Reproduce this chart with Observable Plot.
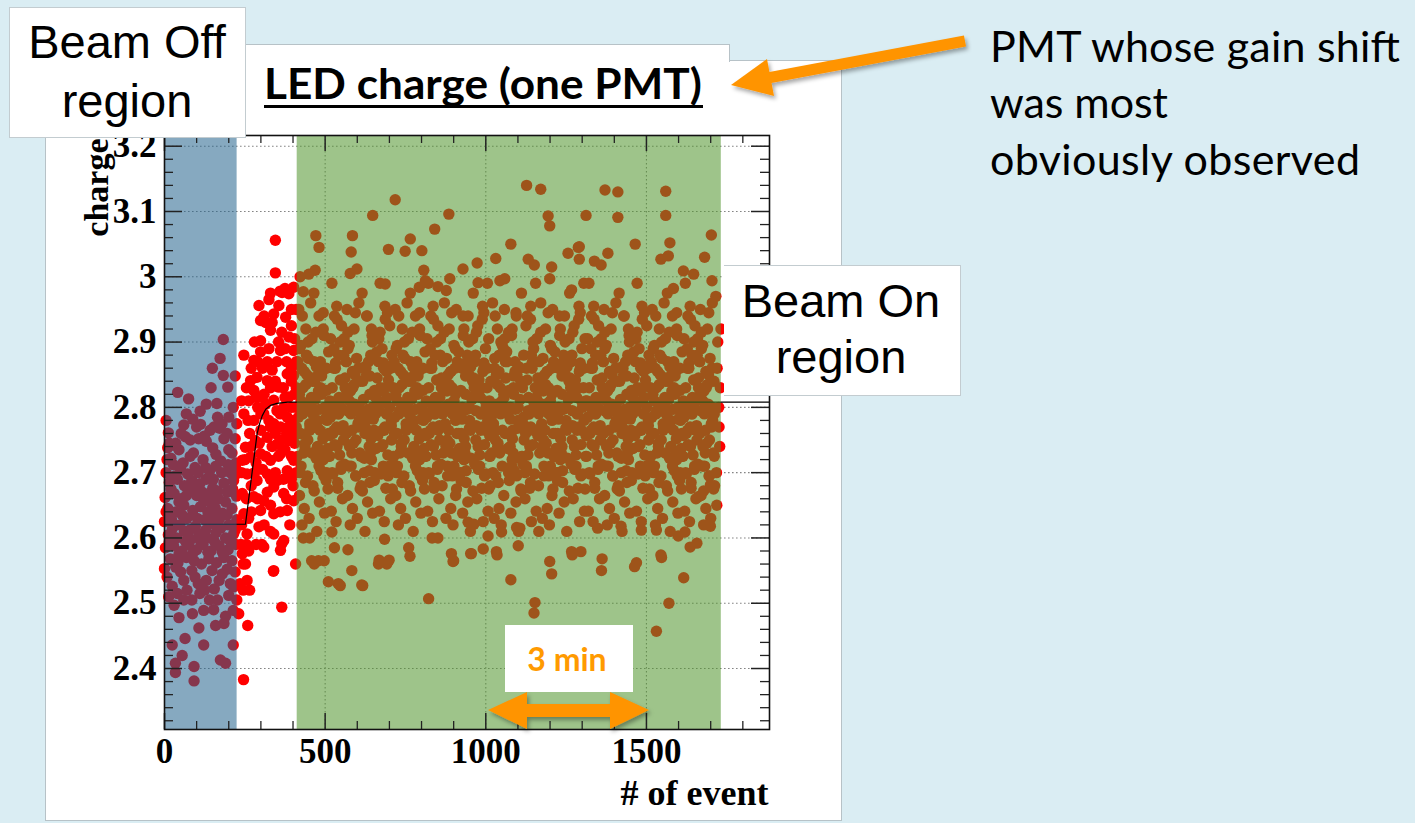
<!DOCTYPE html>
<html><head><meta charset="utf-8">
<script src="https://cdn.jsdelivr.net/npm/d3@7"></script>
<script src="https://cdn.jsdelivr.net/npm/@observablehq/plot@0.6"></script>
<style>
html,body{margin:0;padding:0;background:#daedf3;width:1415px;height:823px;overflow:hidden;}
#stage{position:relative;width:1415px;height:823px;}
.box{position:absolute;background:#fff;box-sizing:border-box;}
#chart{position:absolute;left:0;top:0;}
#anno{position:absolute;left:0;top:0;}
</style></head><body>
<div id="stage">
  <div class="box" style="left:45px;top:60px;width:797px;height:761px;border:1px solid #b7c2c7;"></div>
  <div class="box" style="left:245px;top:44px;width:485px;height:18px;border:1px solid #b7c2c7;border-bottom:none;"></div>
  <div id="chart"></div>
  <div class="box" style="left:9px;top:7px;width:237px;height:131px;border:1px solid #c3ccd0;"></div>
  <div class="box" style="left:724px;top:265px;width:237px;height:131px;border:1px solid #c3ccd0;border-left:none;"></div>
  <svg id="anno" width="1415" height="823">
    <defs>
      <filter id="sh" x="-20%" y="-50%" width="140%" height="200%">
        <feDropShadow dx="2" dy="3" stdDeviation="2.2" flood-color="#000" flood-opacity="0.35"/>
      </filter>
    </defs>
    <g style="font-family:'Liberation Sans',Arial,sans-serif" font-size="47" fill="#000" text-anchor="middle">
      <text x="127" y="58">Beam Off</text>
      <text x="127" y="117">region</text>
      <text x="841" y="317">Beam On</text>
      <text x="841" y="373">region</text>
    </g>
    <text x="264" y="99" font-family="Lato" font-weight="bold" font-size="42" textLength="438" lengthAdjust="spacingAndGlyphs">LED charge (one PMT)</text>
    <rect x="264" y="105" width="439" height="3" fill="#000"></rect>
    <g font-family="Lato" font-size="43" fill="#000">
      <text x="990" y="62" textLength="410" lengthAdjust="spacing">PMT whose gain shift</text>
      <text x="990" y="118" textLength="178" lengthAdjust="spacing">was most</text>
      <text x="990" y="175" textLength="370" lengthAdjust="spacing">obviously observed</text>
    </g>
    <rect x="505" y="625" width="128" height="67" fill="#fff"></rect>
    <text x="567" y="671" text-anchor="middle" font-family="Lato" font-weight="bold" font-size="32" fill="#ff9a00">3 min</text>
    <g fill="#ff9400" filter="url(#sh)">
      <polygon points="488,710 527,692 527,704 610,704 610,692 649,710 610,729 610,717 527,717 527,729"></polygon>
      <polygon points="764,73 964,35.6 966,46.4 766,84"></polygon>
      <polygon points="731,85 767,59 774,96"></polygon>
    </g>
  </svg>
</div>
<script>
// ---- axis ticks ----
const xMajor = [0, 500, 1000, 1500];
const xMinor = [100, 200, 300, 400, 600, 700, 800, 900, 1100, 1200, 1300, 1400, 1600, 1700, 1800];
const yMajor = [2.4, 2.5, 2.6, 2.7, 2.8, 2.9, 3.0, 3.1, 3.2];
const yMinor = [2.32,2.34,2.36,2.38,2.42,2.44,2.46,2.48,2.52,2.54,2.56,2.58,2.62,2.64,2.66,2.68,2.72,2.74,2.76,2.78,2.82,2.84,2.86,2.88,2.92,2.94,2.96,2.98,3.02,3.04,3.06,3.08,3.12,3.14,3.16,3.18];

// ---- highlighted regions (event number) ----
const regionNames = ["off", "on"];
const regionStart = [0, 413];
const regionEnd = [226, 1733];

// ---- fitted step curve ----
const fitEvents = [0, 252, 270, 288, 296, 304, 315, 330, 350, 382, 1883];
const fitCharge = [2.621, 2.621, 2.69, 2.759, 2.775, 2.787, 2.797, 2.803, 2.806, 2.808, 2.808];

// ---- LED charge per event [event, charge] ----
const offRegion = [[183,2.904],[173,2.875],[149,2.860],[183,2.849],[220,2.848],[197,2.831],[145,2.830],[41,2.823],[75,2.813],[163,2.806],[214,2.800],[111,2.794],[68,2.790],[88,2.782],[112,2.774],[200,2.785],[172,2.768],[12,2.761],[106,2.752],[60,2.773],[220,2.752],[35,2.745],[150,2.738],[200,2.735],[90,2.730],[20,2.722],[120,2.720],[175,2.718],[223,2.715],[45,2.735],[65,2.755],[130,2.748],[185,2.752],[10,2.738],[160,2.728],[210,2.730],[124,2.756],[154,2.770],[179,2.775],[30,2.742],
[5,2.700],[28,2.712],[50,2.705],[72,2.698],[95,2.708],[140,2.702],[160,2.710],[205,2.700],[222,2.706],
[15,2.685],[40,2.690],[62,2.680],[85,2.688],[110,2.683],[130,2.690],[150,2.676],[185,2.684],[215,2.688],
[2,2.662],[30,2.668],[52,2.660],[78,2.672],[100,2.665],[122,2.658],[145,2.668],[168,2.660],[195,2.670],[224,2.664],
[10,2.645],[35,2.640],[60,2.650],[88,2.642],[112,2.648],[135,2.640],[158,2.646],[180,2.638],[210,2.645],
[0,2.625],[22,2.628],[48,2.620],[70,2.630],[96,2.618],[125,2.628],[150,2.622],[172,2.630],[200,2.620],[225,2.628],
[12,2.605],[38,2.600],[62,2.610],[82,2.598],[108,2.606],[132,2.600],[160,2.608],[190,2.600],[215,2.606],
[3,2.585],[28,2.588],[55,2.580],[75,2.590],[100,2.582],[120,2.590],[145,2.580],[170,2.588],[198,2.582],[222,2.590],
[18,2.568],[42,2.562],[68,2.570],[92,2.565],[115,2.560],[138,2.568],[162,2.562],[185,2.570],[210,2.565],
[0,2.553],[50,2.548],[24,2.526],[13,2.510],[70,2.520],[95,2.540],[130,2.535],[155,2.522],[180,2.545],[205,2.530],[220,2.548],
[60,2.505],[140,2.505],[200,2.512],[110,2.515],[30,2.497],
[45,2.478],[87,2.484],[122,2.489],[153,2.490],[190,2.480],[214,2.489],[107,2.462],[159,2.466],[185,2.469],[64,2.446],[24,2.436],[122,2.436],[214,2.436],[55,2.420],[34,2.408],[174,2.413],[190,2.408],[92,2.403],[34,2.394],[92,2.381],
[8,2.72],[33,2.695],[58,2.715],[80,2.725],[105,2.700],[128,2.708],[152,2.690],[178,2.700],[198,2.712],[218,2.695],
[20,2.675],[45,2.655],[68,2.665],[92,2.675],[118,2.670],[140,2.655],[165,2.672],[190,2.655],[212,2.675],
[5,2.640],[25,2.615],[55,2.635],[78,2.612],[102,2.630],[128,2.612],[148,2.635],[175,2.615],[195,2.635],[220,2.612],
[15,2.595],[45,2.575],[65,2.595],[90,2.578],[112,2.595],[135,2.578],[155,2.595],[180,2.578],[205,2.595],
[8,2.540],[35,2.555],[60,2.535],[85,2.550],[105,2.530],[148,2.550],[170,2.535],[195,2.552],[215,2.525],
[40,2.515],[85,2.505],[125,2.520],[165,2.505],[225,2.505],
[15,2.745],[52,2.760],[80,2.750],[142,2.765],[165,2.785],[195,2.760],[225,2.775],[100,2.770],[130,2.805],[5,2.78]];

const rampRegion = [[294,2.956],[325,2.965],[366,2.976],[387,2.974],[402,2.984],[356,2.956],[340,2.943],[299,2.933],[377,2.938],[330,2.918],[387,2.908],[299,2.902],[247,2.880],[278,2.872],[299,2.885],[361,2.887],[402,2.887],[335,2.857],[382,2.851],[268,2.841],[288,2.846],[320,2.841],[402,2.849],[356,2.831],[278,2.826],[299,2.816],[340,2.811],[387,2.816],[247,2.790],[278,2.780],[309,2.790],[340,2.775],[382,2.785],[402,2.780],[361,2.770],[392,2.760],[252,2.739],[283,2.749],[320,2.754],[351,2.744],[387,2.749],[242,2.719],[268,2.724],[299,2.729],[330,2.719],[361,2.729],[402,2.719],[257,2.698],[288,2.688],[320,2.698],[351,2.688],[382,2.703],[242,2.668],[278,2.663],[309,2.657],[340,2.678],[371,2.668],[402,2.657],[247,2.637],[299,2.642],[340,2.637],[382,2.642],[257,2.606],[294,2.617],[340,2.606],[371,2.596],[242,2.576],[309,2.586],[361,2.581],[252,2.560],[340,2.550],[408,2.560],
[262,2.810],[290,2.800],[315,2.805],[330,2.770],[350,2.795],[372,2.800],[395,2.800],[410,2.830],[265,2.760],[300,2.765],[345,2.760],[375,2.735],[405,2.745],[285,2.715],[315,2.725],[345,2.700],[395,2.690],[410,2.700],[270,2.680],[330,2.650],[360,2.640],[390,2.620],[270,2.640],[310,2.620],[240,2.700],[255,2.660],[240,2.620],[255,2.590],[320,2.870],[350,2.870],[380,2.870],[410,2.870],[305,2.860],[395,2.925],[410,2.950],[365,2.915],[315,2.930],[270,2.860],[255,2.830],[240,2.810],[410,2.800],[400,2.760],[380,2.760],[290,2.660],[400,2.680],
[339,2.549],[365,2.494],[259,2.466],[246,2.383],[303,2.590],[365,2.591],[231,2.484],[257,2.535],[245,2.520],[265,2.520],[235,2.530],[245,2.560],[238,2.590],[262,2.580],[345,3.056],[345,3.006],[330,2.975],[360,2.978],[375,2.982],
[280,2.900],[310,2.940],[335,2.930],[355,2.900],[375,2.890],[395,2.950],[405,2.905],[325,2.890],[290,2.870],[345,2.840],[370,2.830],[395,2.840],[330,2.830],[300,2.790],[325,2.780],[360,2.790],[385,2.770],[270,2.740],[295,2.745],[335,2.740],[365,2.750],[395,2.725],[410,2.770],[280,2.700],[305,2.705],[330,2.690],[370,2.690],[250,2.720],[260,2.780],[285,2.815],[310,2.820],[375,2.815],[395,2.860],[405,2.820],[355,2.725],[320,2.670],[380,2.660],[262,2.630],[330,2.610],[285,2.590]];

const onOutliers = [[718,3.118],[648,3.094],[471,3.063],[585,3.063],[481,3.045],[581,3.038],[697,3.042],[765,3.058],[749,3.039],[801,3.040],[841,3.073],[469,3.010],[449,3.004],[578,3.005],[599,3.012],[687,2.989],[807,3.010],[812,2.994],[793,2.984],[422,3.000],[432,2.977],[1127,3.140],[1171,3.134],[885,3.096],[1194,3.093],[1199,3.078],[1078,3.050],[1031,3.028],[973,3.021],[1132,3.027],[1151,3.018],[1256,3.036],[1288,3.045],[1205,3.015],[1199,2.997],[1267,2.980],[888,2.997],[929,3.012],[1044,2.994],[1059,2.997],[976,2.991],[851,2.985],[877,2.979],[1371,3.133],[1411,3.130],[1560,3.131],[1312,3.094],[1411,3.091],[1560,3.094],[1702,3.064],[1465,3.050],[1573,3.052],[1291,3.046],[1380,3.036],[1545,3.027],[1568,3.032],[1681,3.030],[1291,3.027],[1338,3.024],[1359,3.018],[1615,3.009],[1647,3.004],[1704,2.994],[1584,2.982],
[822,2.507],[510,2.533],[541,2.530],[614,2.528],[583,2.550],[458,2.565],[479,2.565],[529,2.585],[571,2.582],[666,2.560],[692,2.560],[760,2.585],[764,2.572],[685,2.598],[833,2.600],[432,2.600],[452,2.600],[521,2.609],[466,2.560],[497,2.565],[547,2.527],[617,2.527],[668,2.566],[699,2.566],[1078,2.536],[1153,2.501],[1150,2.485],[1205,2.545],[1199,2.564],[1267,2.579],[898,2.564],[893,2.576],[953,2.576],[992,2.583],[1033,2.579],[1007,2.603],[1049,2.609],[1096,2.616],[1106,2.615],[1165,2.610],[1101,2.588],[851,2.600],[945,2.624],[963,2.621],[900,2.565],[955,2.576],[1035,2.574],[1269,2.574],[1362,2.568],[1360,2.550],[1469,2.562],[1463,2.556],[1547,2.570],[1616,2.539],[1570,2.500],[1531,2.457],[1545,2.574],[1296,2.579],[1636,2.586],[1657,2.592],[1599,2.603],[1620,2.609],[1699,2.618],[1531,2.612],[1484,2.612],[1421,2.618],[1348,2.615],[1662,2.663],[1678,2.672],[1699,2.681],
[1720,2.86],[1725,2.80],[1728,2.74],[1722,2.90],[1718,2.70],[1730,2.83],[1716,2.97],[1726,2.77],[1732,2.92],[1719,2.65]];

// dense core of the beam-on region, read in 50-event slices
const onBinEvents = [
[418,440,455,425,448,435,460,420,442,430,452,416,438,458,425,445,462,420,435,450,428,440,415,455,425,453,443,433,421,461,446,431],
[465,481,496,511,473,489,504,469,484,500,477,493,508,472,487,503,466,482,498,474,491,507,479,494,499,467,510,485,494,476,489,505],
[521,536,551,517,532,547,562,526,541,556,514,530,545,560,524,539,554,519,534,549,528,543,558,537,542,522,557,532,550,515,536,527],
[568,590,605,575,598,585,610,570,592,580,602,566,588,608,575,595,612,570,585,600,578,590,565,605,575,603,593,583,571,611,596,581],
[615,631,646,661,623,639,654,619,634,650,627,643,658,622,637,653,616,632,648,624,641,657,629,644,649,617,660,635,644,626,639,655],
[671,686,701,667,682,697,712,676,691,706,664,680,695,710,674,689,704,669,684,699,678,693,708,687,692,672,707,682,700,665,686,677],
[718,740,755,725,748,735,760,720,742,730,752,716,738,758,725,745,762,720,735,750,728,740,715,755,725,753,743,733,721,761,746,731],
[765,781,796,811,773,789,804,769,784,800,777,793,808,772,787,803,766,782,798,774,791,807,779,794,799,767,810,785,794,776,789,805],
[821,836,851,817,832,847,862,826,841,856,814,830,845,860,824,839,854,819,834,849,828,843,858,837,842,822,857,832,850,815,836,827],
[908,886,871,901,878,891,866,906,884,896,874,910,888,868,901,881,864,906,891,876,898,886,911,871,901,873,883,893,905,865,880,895],
[961,945,930,915,953,937,922,957,942,926,949,933,918,954,939,923,960,944,928,952,935,919,947,932,927,959,916,941,932,950,937,921],
[1005,990,975,1009,994,979,964,1000,985,970,1012,996,981,966,1002,987,972,1007,992,977,998,983,968,989,984,1004,969,994,976,1011,990,999],
[1058,1036,1021,1051,1028,1041,1016,1056,1034,1046,1024,1060,1038,1018,1051,1031,1014,1056,1041,1026,1048,1036,1061,1021,1051,1023,1033,1043,1055,1015,1030,1045],
[1111,1095,1080,1065,1103,1087,1072,1107,1092,1076,1099,1083,1068,1104,1089,1073,1110,1094,1078,1102,1085,1069,1097,1082,1077,1109,1066,1091,1082,1100,1087,1071],
[1155,1140,1125,1159,1144,1129,1114,1150,1135,1120,1162,1146,1131,1116,1152,1137,1122,1157,1142,1127,1148,1133,1118,1139,1134,1154,1119,1144,1126,1161,1140,1149],
[1208,1186,1171,1201,1178,1191,1166,1206,1184,1196,1174,1210,1188,1168,1201,1181,1164,1206,1191,1176,1198,1186,1211,1171,1201,1173,1183,1193,1205,1165,1180,1195],
[1261,1245,1230,1215,1253,1237,1222,1257,1242,1226,1249,1233,1218,1254,1239,1223,1260,1244,1228,1252,1235,1219,1247,1232,1227,1259,1216,1241,1232,1250,1237,1221],
[1305,1290,1275,1309,1294,1279,1264,1300,1285,1270,1312,1296,1281,1266,1302,1287,1272,1307,1292,1277,1298,1283,1268,1289,1284,1304,1269,1294,1276,1311,1290,1299],
[1321,1336,1351,1317,1332,1347,1362,1326,1341,1356,1314,1330,1345,1360,1324,1339,1354,1319,1334,1349,1328,1343,1358,1337,1342,1322,1357,1332,1350,1315,1336,1327],
[1368,1390,1405,1375,1398,1385,1410,1370,1392,1380,1402,1366,1388,1408,1375,1395,1412,1370,1385,1400,1378,1390,1365,1405,1375,1403,1393,1383,1371,1411,1396,1381],
[1415,1431,1446,1461,1423,1439,1454,1419,1434,1450,1427,1443,1458,1422,1437,1453,1416,1432,1448,1424,1441,1457,1429,1444,1449,1417,1460,1435,1444,1426,1439,1455],
[1471,1486,1501,1467,1482,1497,1512,1476,1491,1506,1464,1480,1495,1510,1474,1489,1504,1469,1484,1499,1478,1493,1508,1487,1492,1472,1507,1482,1500,1465,1486,1477],
[1518,1540,1555,1525,1548,1535,1560,1520,1542,1530,1552,1516,1538,1558,1525,1545,1562,1520,1535,1550,1528,1540,1515,1555,1525,1553,1543,1533,1521,1561,1546,1531],
[1565,1581,1596,1611,1573,1589,1604,1569,1584,1600,1577,1593,1608,1572,1587,1603,1566,1582,1598,1574,1591,1607,1579,1594,1599,1567,1610,1585,1594,1576,1589,1605],
[1621,1636,1651,1617,1632,1647,1662,1626,1641,1656,1614,1630,1645,1660,1624,1639,1654,1619,1634,1649,1628,1643,1658,1637,1642,1622,1657,1632,1650,1615,1636,1627],
[1668,1690,1705,1675,1698,1685,1710,1670,1692,1680,1702,1666,1688,1708,1675,1695,1712,1670,1685,1700,1678,1690,1665,1705,1675,1703,1693,1683,1671,1711,1696,1681]];

const onBinCharges = [
[2.95,2.92,2.96,2.895,2.875,2.855,2.84,2.82,2.805,2.79,2.775,2.76,2.745,2.73,2.71,2.695,2.68,2.665,2.645,2.63,2.62,2.835,2.87,2.8,2.81,2.77,2.85,2.73,2.89,2.79,2.75,2.83],
[2.975,2.94,2.91,2.885,2.862,2.848,2.826,2.812,2.797,2.782,2.768,2.752,2.737,2.722,2.703,2.688,2.672,2.655,2.638,2.61,2.73,2.79,2.85,2.92,2.8,2.84,2.76,2.87,2.72,2.78,2.82,2.7],
[2.99,2.955,2.925,2.905,2.868,2.842,2.83,2.808,2.79,2.772,2.757,2.743,2.727,2.713,2.698,2.676,2.66,2.641,2.625,2.705,2.765,2.815,2.88,2.935,2.79,2.83,2.75,2.86,2.71,2.81,2.77,2.89],
[2.95,2.92,2.96,2.895,2.875,2.855,2.84,2.82,2.805,2.79,2.775,2.76,2.745,2.73,2.71,2.695,2.68,2.665,2.645,2.63,2.62,2.835,2.87,2.8,2.81,2.77,2.85,2.73,2.89,2.79,2.75,2.83],
[2.975,2.94,2.91,2.885,2.862,2.848,2.826,2.812,2.797,2.782,2.768,2.752,2.737,2.722,2.703,2.688,2.672,2.655,2.638,2.61,2.73,2.79,2.85,2.92,2.8,2.84,2.76,2.87,2.72,2.78,2.82,2.7],
[2.99,2.955,2.925,2.905,2.868,2.842,2.83,2.808,2.79,2.772,2.757,2.743,2.727,2.713,2.698,2.676,2.66,2.641,2.625,2.705,2.765,2.815,2.88,2.935,2.79,2.83,2.75,2.86,2.71,2.81,2.77,2.89],
[2.95,2.92,2.96,2.895,2.875,2.855,2.84,2.82,2.805,2.79,2.775,2.76,2.745,2.73,2.71,2.695,2.68,2.665,2.645,2.63,2.62,2.835,2.87,2.8,2.81,2.77,2.85,2.73,2.89,2.79,2.75,2.83],
[2.975,2.94,2.91,2.885,2.862,2.848,2.826,2.812,2.797,2.782,2.768,2.752,2.737,2.722,2.703,2.688,2.672,2.655,2.638,2.61,2.73,2.79,2.85,2.92,2.8,2.84,2.76,2.87,2.72,2.78,2.82,2.7],
[2.99,2.955,2.925,2.905,2.868,2.842,2.83,2.808,2.79,2.772,2.757,2.743,2.727,2.713,2.698,2.676,2.66,2.641,2.625,2.705,2.765,2.815,2.88,2.935,2.79,2.83,2.75,2.86,2.71,2.81,2.77,2.89],
[2.95,2.92,2.96,2.895,2.875,2.855,2.84,2.82,2.805,2.79,2.775,2.76,2.745,2.73,2.71,2.695,2.68,2.665,2.645,2.63,2.62,2.835,2.87,2.8,2.81,2.77,2.85,2.73,2.89,2.79,2.75,2.83],
[2.975,2.94,2.91,2.885,2.862,2.848,2.826,2.812,2.797,2.782,2.768,2.752,2.737,2.722,2.703,2.688,2.672,2.655,2.638,2.61,2.73,2.79,2.85,2.92,2.8,2.84,2.76,2.87,2.72,2.78,2.82,2.7],
[2.99,2.955,2.925,2.905,2.868,2.842,2.83,2.808,2.79,2.772,2.757,2.743,2.727,2.713,2.698,2.676,2.66,2.641,2.625,2.705,2.765,2.815,2.88,2.935,2.79,2.83,2.75,2.86,2.71,2.81,2.77,2.89],
[2.95,2.92,2.96,2.895,2.875,2.855,2.84,2.82,2.805,2.79,2.775,2.76,2.745,2.73,2.71,2.695,2.68,2.665,2.645,2.63,2.62,2.835,2.87,2.8,2.81,2.77,2.85,2.73,2.89,2.79,2.75,2.83],
[2.975,2.94,2.91,2.885,2.862,2.848,2.826,2.812,2.797,2.782,2.768,2.752,2.737,2.722,2.703,2.688,2.672,2.655,2.638,2.61,2.73,2.79,2.85,2.92,2.8,2.84,2.76,2.87,2.72,2.78,2.82,2.7],
[2.99,2.955,2.925,2.905,2.868,2.842,2.83,2.808,2.79,2.772,2.757,2.743,2.727,2.713,2.698,2.676,2.66,2.641,2.625,2.705,2.765,2.815,2.88,2.935,2.79,2.83,2.75,2.86,2.71,2.81,2.77,2.89],
[2.95,2.92,2.96,2.895,2.875,2.855,2.84,2.82,2.805,2.79,2.775,2.76,2.745,2.73,2.71,2.695,2.68,2.665,2.645,2.63,2.62,2.835,2.87,2.8,2.81,2.77,2.85,2.73,2.89,2.79,2.75,2.83],
[2.975,2.94,2.91,2.885,2.862,2.848,2.826,2.812,2.797,2.782,2.768,2.752,2.737,2.722,2.703,2.688,2.672,2.655,2.638,2.61,2.73,2.79,2.85,2.92,2.8,2.84,2.76,2.87,2.72,2.78,2.82,2.7],
[2.99,2.955,2.925,2.905,2.868,2.842,2.83,2.808,2.79,2.772,2.757,2.743,2.727,2.713,2.698,2.676,2.66,2.641,2.625,2.705,2.765,2.815,2.88,2.935,2.79,2.83,2.75,2.86,2.71,2.81,2.77,2.89],
[2.99,2.955,2.925,2.905,2.868,2.842,2.83,2.808,2.79,2.772,2.757,2.743,2.727,2.713,2.698,2.676,2.66,2.641,2.625,2.705,2.765,2.815,2.88,2.935,2.79,2.83,2.75,2.86,2.71,2.81,2.77,2.89],
[2.95,2.92,2.96,2.895,2.875,2.855,2.84,2.82,2.805,2.79,2.775,2.76,2.745,2.73,2.71,2.695,2.68,2.665,2.645,2.63,2.62,2.835,2.87,2.8,2.81,2.77,2.85,2.73,2.89,2.79,2.75,2.83],
[2.975,2.94,2.91,2.885,2.862,2.848,2.826,2.812,2.797,2.782,2.768,2.752,2.737,2.722,2.703,2.688,2.672,2.655,2.638,2.61,2.73,2.79,2.85,2.92,2.8,2.84,2.76,2.87,2.72,2.78,2.82,2.7],
[2.99,2.955,2.925,2.905,2.868,2.842,2.83,2.808,2.79,2.772,2.757,2.743,2.727,2.713,2.698,2.676,2.66,2.641,2.625,2.705,2.765,2.815,2.88,2.935,2.79,2.83,2.75,2.86,2.71,2.81,2.77,2.89],
[2.95,2.92,2.96,2.895,2.875,2.855,2.84,2.82,2.805,2.79,2.775,2.76,2.745,2.73,2.71,2.695,2.68,2.665,2.645,2.63,2.62,2.835,2.87,2.8,2.81,2.77,2.85,2.73,2.89,2.79,2.75,2.83],
[2.975,2.94,2.91,2.885,2.862,2.848,2.826,2.812,2.797,2.782,2.768,2.752,2.737,2.722,2.703,2.688,2.672,2.655,2.638,2.61,2.73,2.79,2.85,2.92,2.8,2.84,2.76,2.87,2.72,2.78,2.82,2.7],
[2.99,2.955,2.925,2.905,2.868,2.842,2.83,2.808,2.79,2.772,2.757,2.743,2.727,2.713,2.698,2.676,2.66,2.641,2.625,2.705,2.765,2.815,2.88,2.935,2.79,2.83,2.75,2.86,2.71,2.81,2.77,2.89],
[2.95,2.92,2.96,2.895,2.875,2.855,2.84,2.82,2.805,2.79,2.775,2.76,2.745,2.73,2.71,2.695,2.68,2.665,2.645,2.63,2.62,2.835,2.87,2.8,2.81,2.77,2.85,2.73,2.89,2.79,2.75,2.83]];

// second pass over the dense core (2.67 - 2.95), same slices
const coreBinEvents = [
[417,427,437,447,457,422,432,442,452,462,414,429,439,449,459,424],
[466,476,486,496,506,471,481,491,501,511,469,484,494,504,509,479],
[517,527,537,547,557,522,532,542,552,562,514,529,539,549,559,524],
[566,576,586,596,606,571,581,591,601,611,569,584,594,604,609,579],
[617,627,637,647,657,622,632,642,652,662,614,629,639,649,659,624],
[666,676,686,696,706,671,681,691,701,711,669,684,694,704,709,679],
[717,727,737,747,757,722,732,742,752,762,714,729,739,749,759,724],
[766,776,786,796,806,771,781,791,801,811,769,784,794,804,809,779],
[817,827,837,847,857,822,832,842,852,862,814,829,839,849,859,824],
[866,876,886,896,906,871,881,891,901,911,869,884,894,904,909,879],
[917,927,937,947,957,922,932,942,952,962,914,929,939,949,959,924],
[966,976,986,996,1006,971,981,991,1001,1011,969,984,994,1004,1009,979],
[1017,1027,1037,1047,1057,1022,1032,1042,1052,1062,1014,1029,1039,1049,1059,1024],
[1066,1076,1086,1096,1106,1071,1081,1091,1101,1111,1069,1084,1094,1104,1109,1079],
[1117,1127,1137,1147,1157,1122,1132,1142,1152,1162,1114,1129,1139,1149,1159,1124],
[1166,1176,1186,1196,1206,1171,1181,1191,1201,1211,1169,1184,1194,1204,1209,1179],
[1217,1227,1237,1247,1257,1222,1232,1242,1252,1262,1214,1229,1239,1249,1259,1224],
[1266,1276,1286,1296,1306,1271,1281,1291,1301,1311,1269,1284,1294,1304,1309,1279],
[1317,1327,1337,1347,1357,1322,1332,1342,1352,1362,1314,1329,1339,1349,1359,1324],
[1366,1376,1386,1396,1406,1371,1381,1391,1401,1411,1369,1384,1394,1404,1409,1379],
[1417,1427,1437,1447,1457,1422,1432,1442,1452,1462,1414,1429,1439,1449,1459,1424],
[1466,1476,1486,1496,1506,1471,1481,1491,1501,1511,1469,1484,1494,1504,1509,1479],
[1517,1527,1537,1547,1557,1522,1532,1542,1552,1562,1514,1529,1539,1549,1559,1524],
[1566,1576,1586,1596,1606,1571,1581,1591,1601,1611,1569,1584,1594,1604,1609,1579],
[1617,1627,1637,1647,1657,1622,1632,1642,1652,1662,1614,1629,1639,1649,1659,1624],
[1666,1676,1686,1696,1706,1671,1681,1691,1701,1711,1669,1684,1694,1704,1709,1679]];

const coreBinCharges = [
[2.785,2.86,2.74,2.90,2.815,2.70,2.795,2.88,2.765,2.845,2.725,2.94,2.685,2.80,2.905,2.76],
[2.87,2.74,2.83,2.695,2.78,2.915,2.71,2.855,2.80,2.725,2.795,2.765,2.945,2.86,2.675,2.825],
[2.785,2.86,2.74,2.90,2.815,2.70,2.795,2.88,2.765,2.845,2.725,2.94,2.685,2.80,2.905,2.76],
[2.87,2.74,2.83,2.695,2.78,2.915,2.71,2.855,2.80,2.725,2.795,2.765,2.945,2.86,2.675,2.825],
[2.785,2.86,2.74,2.90,2.815,2.70,2.795,2.88,2.765,2.845,2.725,2.94,2.685,2.80,2.905,2.76],
[2.87,2.74,2.83,2.695,2.78,2.915,2.71,2.855,2.80,2.725,2.795,2.765,2.945,2.86,2.675,2.825],
[2.785,2.86,2.74,2.90,2.815,2.70,2.795,2.88,2.765,2.845,2.725,2.94,2.685,2.80,2.905,2.76],
[2.87,2.74,2.83,2.695,2.78,2.915,2.71,2.855,2.80,2.725,2.795,2.765,2.945,2.86,2.675,2.825],
[2.785,2.86,2.74,2.90,2.815,2.70,2.795,2.88,2.765,2.845,2.725,2.94,2.685,2.80,2.905,2.76],
[2.87,2.74,2.83,2.695,2.78,2.915,2.71,2.855,2.80,2.725,2.795,2.765,2.945,2.86,2.675,2.825],
[2.785,2.86,2.74,2.90,2.815,2.70,2.795,2.88,2.765,2.845,2.725,2.94,2.685,2.80,2.905,2.76],
[2.87,2.74,2.83,2.695,2.78,2.915,2.71,2.855,2.80,2.725,2.795,2.765,2.945,2.86,2.675,2.825],
[2.785,2.86,2.74,2.90,2.815,2.70,2.795,2.88,2.765,2.845,2.725,2.94,2.685,2.80,2.905,2.76],
[2.87,2.74,2.83,2.695,2.78,2.915,2.71,2.855,2.80,2.725,2.795,2.765,2.945,2.86,2.675,2.825],
[2.785,2.86,2.74,2.90,2.815,2.70,2.795,2.88,2.765,2.845,2.725,2.94,2.685,2.80,2.905,2.76],
[2.87,2.74,2.83,2.695,2.78,2.915,2.71,2.855,2.80,2.725,2.795,2.765,2.945,2.86,2.675,2.825],
[2.785,2.86,2.74,2.90,2.815,2.70,2.795,2.88,2.765,2.845,2.725,2.94,2.685,2.80,2.905,2.76],
[2.87,2.74,2.83,2.695,2.78,2.915,2.71,2.855,2.80,2.725,2.795,2.765,2.945,2.86,2.675,2.825],
[2.785,2.86,2.74,2.90,2.815,2.70,2.795,2.88,2.765,2.845,2.725,2.94,2.685,2.80,2.905,2.76],
[2.87,2.74,2.83,2.695,2.78,2.915,2.71,2.855,2.80,2.725,2.795,2.765,2.945,2.86,2.675,2.825],
[2.785,2.86,2.74,2.90,2.815,2.70,2.795,2.88,2.765,2.845,2.725,2.94,2.685,2.80,2.905,2.76],
[2.87,2.74,2.83,2.695,2.78,2.915,2.71,2.855,2.80,2.725,2.795,2.765,2.945,2.86,2.675,2.825],
[2.785,2.86,2.74,2.90,2.815,2.70,2.795,2.88,2.765,2.845,2.725,2.94,2.685,2.80,2.905,2.76],
[2.87,2.74,2.83,2.695,2.78,2.915,2.71,2.855,2.80,2.725,2.795,2.765,2.945,2.86,2.675,2.825],
[2.785,2.86,2.74,2.90,2.815,2.70,2.795,2.88,2.765,2.845,2.725,2.94,2.685,2.80,2.905,2.76],
[2.87,2.74,2.83,2.695,2.78,2.915,2.71,2.855,2.80,2.725,2.795,2.765,2.945,2.86,2.675,2.825]];

// ---- build tables ----
const zipBins = (evs, chs) => evs.flatMap((xs, i) => xs.map((x, j) => [x, chs[i][j]]));
const points = [...offRegion, ...rampRegion, ...onOutliers,
  ...zipBins(onBinEvents, onBinCharges), ...zipBins(coreBinEvents, coreBinCharges)]
  .map(([event, charge]) => ({event, charge}));
const fit = fitEvents.map((e, i) => ({event: e, charge: fitCharge[i]}));
const regions = regionNames.map((name, i) => ({name, start: regionStart[i], end: regionEnd[i]}));

const W = 1415, H = 823;
const mL = 164, mR = W - 769, mT = 135, mB = H - 729;
const frameW = W - mL - mR, frameH = H - mT - mB;
const serif = "Liberation Serif, Times New Roman, serif";
const gridStyle = {stroke: "#858585", strokeOpacity: 1, strokeWidth: 1.1, strokeDasharray: "1.6,2.4"};

const chart = Plot.plot({
  width: W, height: H,
  marginLeft: mL, marginRight: mR, marginTop: mT, marginBottom: mB,
  x: {domain: [0, 1883], axis: null},
  y: {domain: [2.3066, 3.2164], axis: null},
  style: {background: "transparent", overflow: "visible"},
  marks: [
    Plot.gridY(yMajor, gridStyle),
    Plot.gridX(xMajor.filter(d => d > 0), gridStyle),
    Plot.dot(points, {x: "event", y: "charge", r: 5.7, fill: "#ff0000", stroke: "none"}),
    Plot.line(fit, {x: "event", y: "charge", stroke: "#000", strokeWidth: 1.2}),
    Plot.rect(regions.filter(d => d.name === "off"), {x1: "start", x2: "end", fill: "#23628c", fillOpacity: 0.55}),
    Plot.rect(regions.filter(d => d.name === "on"), {x1: "start", x2: "end", fill: "#52962e", fillOpacity: 0.56}),
    // inward ROOT-style ticks
    Plot.ruleX(xMajor, {insetTop: frameH - 16, stroke: "#222", strokeWidth: 1.5}),
    Plot.ruleX(xMinor, {insetTop: frameH - 8, stroke: "#222", strokeWidth: 1.3}),
    Plot.ruleX(xMajor, {insetBottom: frameH - 16, stroke: "#222", strokeWidth: 1.5}),
    Plot.ruleX(xMinor, {insetBottom: frameH - 8, stroke: "#222", strokeWidth: 1.3}),
    Plot.ruleY(yMajor, {insetRight: frameW - 18, stroke: "#222", strokeWidth: 1.5}),
    Plot.ruleY(yMinor, {insetRight: frameW - 9, stroke: "#222", strokeWidth: 1.3}),
    Plot.ruleY(yMajor, {insetLeft: frameW - 18, stroke: "#222", strokeWidth: 1.5}),
    Plot.ruleY(yMinor, {insetLeft: frameW - 9, stroke: "#222", strokeWidth: 1.3}),
    Plot.frame({stroke: "#111", strokeWidth: 1.6}),
    Plot.axisY(yMajor, {anchor: "left", tickSize: 0, tickPadding: 8, label: null,
      tickFormat: d3.format("~g"), fontSize: 35, fontFamily: serif, fontWeight: "bold"}),
    Plot.axisX(xMajor, {anchor: "bottom", tickSize: 0, tickPadding: 9, label: null,
      tickFormat: d => String(d), fontSize: 35, fontFamily: serif, fontWeight: "bold"}),
    Plot.text(["# of event"], {text: d => d, frameAnchor: "bottom-right", textAnchor: "end", lineAnchor: "bottom",
      dx: -1, dy: 75, fontSize: 36, fontFamily: serif, fontWeight: "bold", fill: "#000"}),
    Plot.text(["charge"], {text: d => d, frameAnchor: "top-left", rotate: -90, textAnchor: "end", lineAnchor: "middle",
      dx: -67, dy: 3, fontSize: 34, fontFamily: serif, fontWeight: "bold", fill: "#000"})
  ]
});
document.getElementById("chart").appendChild(chart);
</script>
</body></html>
